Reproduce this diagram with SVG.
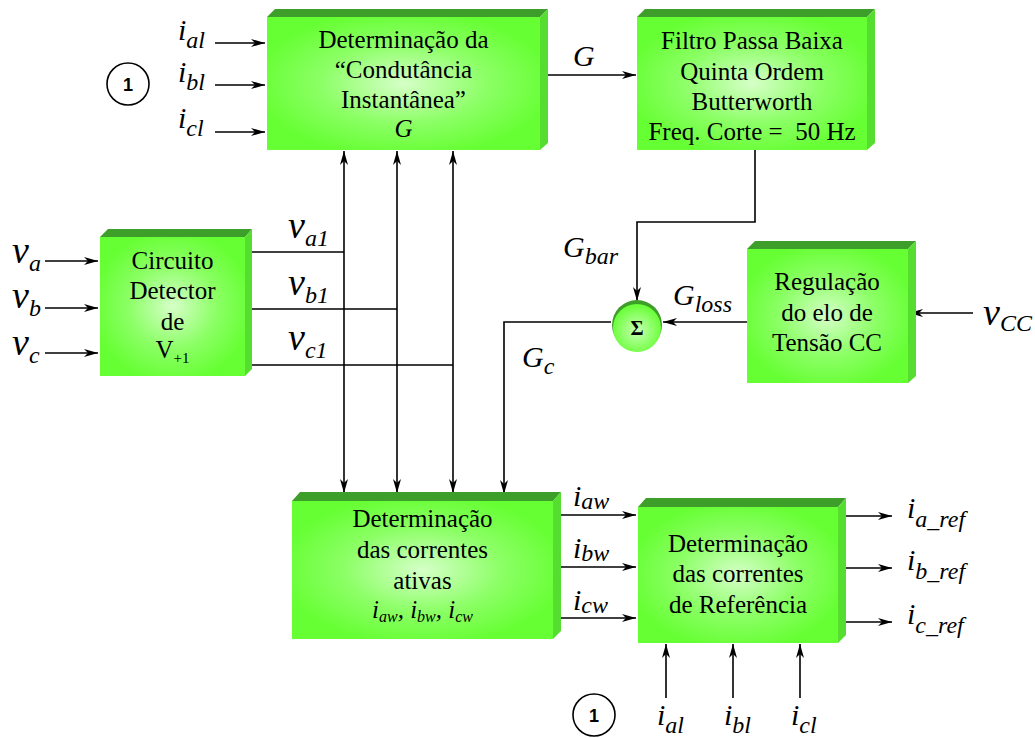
<svg xmlns="http://www.w3.org/2000/svg" width="1035" height="738" viewBox="0 0 1035 738">
<defs>
<radialGradient id="fg" cx="50%" cy="50%" r="55%">
<stop offset="0" stop-color="#d6ffc8"/>
<stop offset="0.55" stop-color="#8cff66"/>
<stop offset="1" stop-color="#66ff33"/>
</radialGradient>
<radialGradient id="sg" cx="50%" cy="55%" r="55%">
<stop offset="0" stop-color="#c8ffb4"/>
<stop offset="1" stop-color="#66ff33"/>
</radialGradient>
<marker id="ah" viewBox="0 0 14 8" refX="14" refY="4" markerWidth="14" markerHeight="8" markerUnits="userSpaceOnUse" orient="auto-start-reverse">
<path d="M0,0 L14,4 L0,8 L4,4 Z" fill="#000"/>
</marker>
<style>
.face{fill:url(#fg)}
.top{fill:#3e9e2a}
.side{fill:#55dd30}
.t{font-family:"Liberation Serif","Times New Roman",serif;font-size:25px;text-anchor:middle;fill:#000}
.m{font-family:"Liberation Serif","Times New Roman",serif;font-style:italic;font-size:30px;fill:#000}
.v{font-size:38px}
.s{font-size:24px}
.w{stroke:#000;stroke-width:1.6;fill:none}
.a{marker-end:url(#ah)}
.b{marker-start:url(#ah);marker-end:url(#ah)}
.c1{fill:#fff;stroke:#000;stroke-width:1.6}
.n1{font-family:"Liberation Sans",Arial,sans-serif;font-weight:bold;font-size:18px;text-anchor:middle}
</style>
</defs>
<rect width="1035" height="738" fill="#fff"/>

<g id="connectors">
<path class="w a" d="M215,43 H265"/>
<path class="w a" d="M215,85 H265"/>
<path class="w a" d="M215,132 H265"/>
<path class="w a" d="M548,75 H636"/>
<path class="w a" d="M755,150 V222 H637 V301"/>
<path class="w b" d="M344,493 V151"/>
<path class="w b" d="M397,493 V151"/>
<path class="w b" d="M453,493 V151"/>
<path class="w" d="M245,252 H344"/>
<path class="w" d="M245,309 H397"/>
<path class="w" d="M245,365 H453"/>
<path class="w a" d="M45,261 H98"/>
<path class="w a" d="M45,308 H98"/>
<path class="w a" d="M45,353 H98"/>
<path class="w a" d="M611,322 H504 V494"/>
<path class="w a" d="M747,322 H663"/>
<path class="w a" d="M973,313 H909"/>
<path class="w a" d="M553,515 H636"/>
<path class="w a" d="M553,567 H636"/>
<path class="w a" d="M553,618 H636"/>
<path class="w a" d="M842,516 H892"/>
<path class="w a" d="M842,568 H892"/>
<path class="w a" d="M842,622 H892"/>
<path class="w a" d="M666,698 V644"/>
<path class="w a" d="M733,698 V644"/>
<path class="w a" d="M800,698 V644"/>
</g>

<g id="cond">
<polygon class="top" points="267,17 275,9 548,9 540,17"/>
<polygon class="side" points="540,17 548,9 548,143 540,150"/>
<rect class="face" x="267" y="17" width="273" height="133"/>
<text class="t" x="403.5" y="48">Determinação da</text>
<text class="t" x="403.5" y="78">“Condutância</text>
<text class="t" x="403.5" y="108">Instantânea”</text>
<text class="t" x="403.5" y="137" font-style="italic">G</text>
</g>

<g id="filtro">
<polygon class="top" points="637,17 645,9 875,9 867,17"/>
<polygon class="side" points="867,17 875,9 875,143 867,150"/>
<rect class="face" x="637" y="17" width="230" height="133"/>
<text class="t" x="752" y="49">Filtro Passa Baixa</text>
<text class="t" x="752" y="80">Quinta Ordem</text>
<text class="t" x="752" y="110">Butterworth</text>
<text class="t" x="752" y="140" xml:space="preserve">Freq. Corte =  50 Hz</text>
</g>

<g id="circuito">
<polygon class="top" points="100,237 108,229 252,229 245,237"/>
<polygon class="side" points="245,237 252,229 252,369 245,376"/>
<rect class="face" x="100" y="237" width="145" height="139"/>
<text class="t" x="172.5" y="269">Circuito</text>
<text class="t" x="172.5" y="299">Detector</text>
<text class="t" x="172.5" y="330">de</text>
<text class="t" x="172.5" y="358">V<tspan font-size="15" dy="5">+1</tspan></text>
</g>

<g id="regulacao">
<polygon class="top" points="747,249 755,241 916,241 908,249"/>
<polygon class="side" points="908,249 916,241 916,376 908,383"/>
<rect class="face" x="747" y="249" width="161" height="134"/>
<text class="t" x="827" y="290">Regulação</text>
<text class="t" x="827" y="321">do elo de</text>
<text class="t" x="827" y="351">Tensão CC</text>
</g>

<g id="sigma">
<circle cx="637" cy="325" r="25" fill="#3e9e2a"/>
<circle cx="637" cy="328" r="24" fill="url(#sg)"/>
<text x="637" y="335" font-family="Liberation Serif, serif" font-weight="bold" font-size="20" text-anchor="middle">Σ</text>
</g>

<g id="ativas">
<polygon class="top" points="292,501 300,492 561,492 553,501"/>
<polygon class="side" points="553,501 561,492 561,631 553,639"/>
<rect class="face" x="292" y="501" width="261" height="138"/>
<text class="t" x="422.5" y="527">Determinação</text>
<text class="t" x="422.5" y="558">das correntes</text>
<text class="t" x="422.5" y="589">ativas</text>
<text class="t" x="422.5" y="618" font-style="italic" font-size="24">i<tspan font-size="16" dy="4">aw</tspan><tspan dy="-4">, i</tspan><tspan font-size="16" dy="4">bw</tspan><tspan dy="-4">, i</tspan><tspan font-size="16" dy="4">cw</tspan></text>
</g>

<g id="referencia">
<polygon class="top" points="638,507 646,498 846,498 838,507"/>
<polygon class="side" points="838,507 846,498 846,635 838,643"/>
<rect class="face" x="638" y="507" width="200" height="136"/>
<text class="t" x="738" y="552">Determinação</text>
<text class="t" x="738" y="582">das correntes</text>
<text class="t" x="738" y="613">de Referência</text>
</g>

<g id="marker1-top">
<circle class="c1" cx="128" cy="84" r="21"/>
<text class="n1" x="128" y="90.5">1</text>
</g>
<g id="marker1-bottom">
<circle class="c1" cx="594" cy="715" r="21"/>
<text class="n1" x="594" y="721.5">1</text>
</g>

<g id="labels">
<text class="m" x="178" y="40">i<tspan class="s" dy="8">al</tspan></text>
<text class="m" x="178" y="82">i<tspan class="s" dy="8">bl</tspan></text>
<text class="m" x="178" y="128">i<tspan class="s" dy="8">cl</tspan></text>
<text class="m" x="573" y="66">G</text>
<text class="m v" x="12" y="263">v<tspan class="s" dy="8">a</tspan></text>
<text class="m v" x="12" y="308">v<tspan class="s" dy="8">b</tspan></text>
<text class="m v" x="12" y="355">v<tspan class="s" dy="8">c</tspan></text>
<text class="m v" x="288" y="238">v<tspan class="s" dy="8">a1</tspan></text>
<text class="m v" x="288" y="295">v<tspan class="s" dy="8">b1</tspan></text>
<text class="m v" x="288" y="350">v<tspan class="s" dy="8">c1</tspan></text>
<text class="m" x="563" y="257">G<tspan class="s" dy="7">bar</tspan></text>
<text class="m" x="673" y="305">G<tspan class="s" dy="7">loss</tspan></text>
<text class="m" x="522" y="367">G<tspan class="s" dy="7">c</tspan></text>
<text class="m v" x="983" y="325">v<tspan class="s" dy="6">CC</tspan></text>
<text class="m" x="573" y="506">i<tspan class="s" dy="3">aw</tspan></text>
<text class="m" x="573" y="558">i<tspan class="s" dy="3">bw</tspan></text>
<text class="m" x="573" y="610">i<tspan class="s" dy="3">cw</tspan></text>
<text class="m" x="907" y="518">i<tspan class="s" dy="9">a_ref</tspan></text>
<text class="m" x="907" y="570">i<tspan class="s" dy="9">b_ref</tspan></text>
<text class="m" x="907" y="624">i<tspan class="s" dy="9">c_ref</tspan></text>
<text class="m" x="657" y="725">i<tspan class="s" dy="8">al</tspan></text>
<text class="m" x="724" y="725">i<tspan class="s" dy="8">bl</tspan></text>
<text class="m" x="791" y="725">i<tspan class="s" dy="8">cl</tspan></text>
</g>
</svg>
